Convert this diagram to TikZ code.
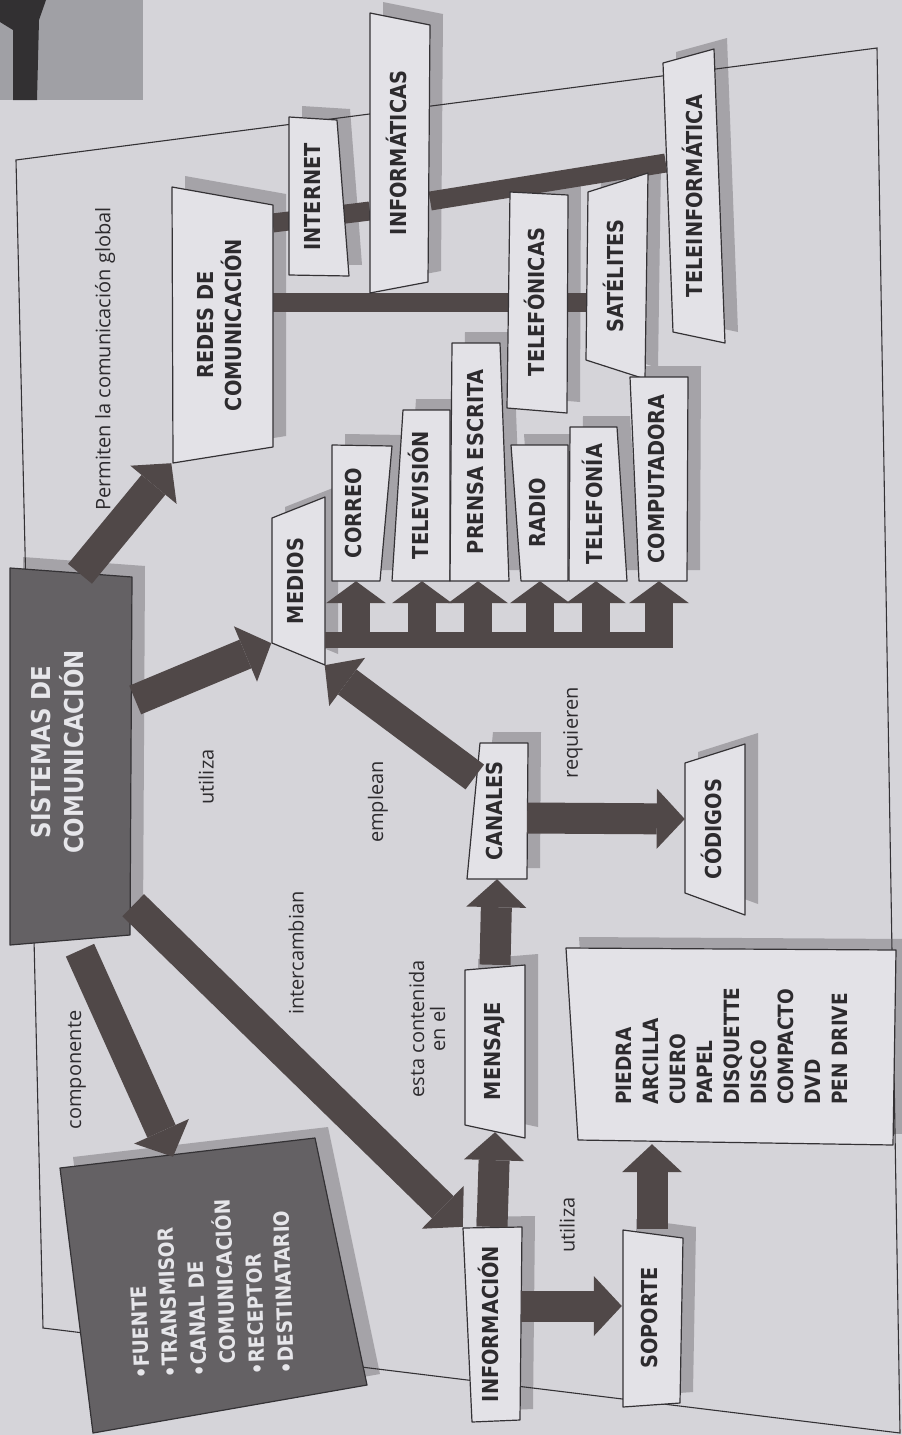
\documentclass[tikz,border=0pt]{standalone}
\usepackage{fontspec}
\usepackage{graphicx}
\usetikzlibrary{arrows.meta}
\newfontfamily\bxfont{DejaVu Sans}[FakeStretch=0.88]
\newfontfamily\notefont{Open Sans}
\definecolor{pagecol}{RGB}{213,212,217}
\definecolor{boxcol}{RGB}{227,226,231}
\definecolor{shadecol}{RGB}{165,163,168}
\definecolor{darkcol}{RGB}{100,97,100}
\definecolor{arrcol}{RGB}{80,72,72}
\definecolor{linecol}{RGB}{52,50,53}
\definecolor{txtcol}{RGB}{45,43,46}
\definecolor{lighttxt}{RGB}{230,230,234}
\definecolor{photocol}{RGB}{160,160,165}
\definecolor{photodark}{RGB}{50,48,50}
\pgfdeclarelayer{back}
\pgfdeclarelayer{links}
\pgfsetlayers{back,links,main}
\newcommand{\vtext}[2][90]{\rotatebox{#1}{\begin{tabular}{@{}c@{}}#2\end{tabular}}}
\newcommand{\vlist}[2][90]{\rotatebox{#1}{\begin{tabular}{@{}l@{}}#2\end{tabular}}}
\newcommand{\cbox}[2][bx]{%
    \begin{pgfonlayer}{back}
        \fill[shd, shift={(13,-11)}] #2 -- cycle;
    \end{pgfonlayer}
    \filldraw[#1] #2 -- cycle;
}
\tikzset{%
    bx/.style={draw=linecol, line width=1.2pt, fill=boxcol, line join=round},
    dk/.style={draw=linecol, line width=1.2pt, fill=darkcol, line join=round},
    shd/.style={fill=shadecol}
}

\begin{document}
\begin{tikzpicture}[x=1pt, y=-1pt,
        lbl/.style={inner sep=0pt, text=txtcol, font=\bxfont\bfseries\fontsize{22}{26}\selectfont},
        note/.style={inner sep=0pt, rotate=90, text=txtcol, font=\notefont\fontsize{20}{21}\selectfont},
        bigarr/.style={draw=arrcol, line width=31pt, -{Triangle[width=60pt, length=28pt, line width=0pt]}},
        tooth/.style={draw=arrcol, line width=28pt, -{Triangle[width=60pt, length=22pt, line width=0pt]}},
        linkbar/.style={draw=arrcol, line width=19pt},
        pageframe/.style={draw=linecol, line width=1.1pt}
        ]
        \useasboundingbox (0,0) rectangle (902,1435);
        \begin{pgfonlayer}{back}
            \fill[pagecol] (0,0) rectangle (902,1435);
            \fill[photocol] (0,0) rectangle (143,100);
            \fill[photodark] (0,0) -- (46,0) -- (39,20) -- (37,100) -- (13,100) -- (13,30) -- (0,22) -- cycle;
        \end{pgfonlayer}
        \begin{pgfonlayer}{links}
            \draw[pageframe] (16,160) -- (877,48) -- (900,1433) -- (43,1328) -- cycle;
        \end{pgfonlayer}

        % cajas
        \cbox{(172,187) -- (273,205) -- (273,447) -- (173,463)}
        \cbox{(289,117) -- (337,120) -- (349,276) -- (289,275)}
        \cbox{(370,13) -- (430,25) -- (428,282) -- (370,293)}
        \cbox{(510,192) -- (568,195) -- (567,413) -- (507,408)}
        \cbox{(588,192) -- (648,173) -- (645,379) -- (586,360)}
        \cbox{(663,63) -- (714,49) -- (725,343) -- (673,332)}
        \cbox{(272,518) -- (325,497) -- (325,665) -- (272,643)}
        \cbox{(332,445) -- (392,446) -- (380,581) -- (332,581)}
        \cbox{(403,410) -- (450,410) -- (450,581) -- (392,581)}
        \cbox{(452,343) -- (500,343) -- (509,581) -- (450,581)}
        \cbox{(511,445) -- (568,445) -- (568,581) -- (521,581)}
        \cbox{(570,427) -- (617,427) -- (627,581) -- (569,581)}
        \cbox{(630,377) -- (688,377) -- (687,581) -- (639,581)}
        \cbox[dk]{(10,568) -- (132,577) -- (130,935) -- (10,945)}
        \cbox[dk]{(60,1168) -- (315,1138) -- (367,1385) -- (93,1433)}
        \cbox{(480,743) -- (528,743) -- (527,879) -- (467,879)}
        \cbox{(685,763) -- (745,744) -- (745,915) -- (685,893)}
        \cbox{(465,970) -- (525,965) -- (525,1138) -- (465,1125)}
        \cbox{(463,1228) -- (522,1227) -- (520,1420) -- (472,1422)}
        \cbox{(623,1230) -- (683,1238) -- (680,1403) -- (623,1407)}
        \cbox{(566,948) -- (896,950) -- (893,1145) -- (578,1140)}

        % textos
        \node[lbl, minimum width=101pt, minimum height=276pt] (redes) at (222,325) {\vtext{REDES DE\\COMUNICACIÓN}};
        \node[lbl, minimum width=56pt, minimum height=158pt] (internet) at (315,197) {\vtext{INTERNET}};
        \node[lbl, minimum width=60pt, minimum height=280pt] (informaticas) at (400,153) {\vtext{INFORMÁTICAS}};
        \node[lbl, minimum width=60pt, minimum height=220pt] (telefonicas) at (538,302) {\vtext{TELEFÓNICAS}};
        \node[lbl, minimum width=62pt, minimum height=206pt] (satelites) at (617,276) {\vtext{SATÉLITES}};
        \node[lbl, minimum width=60pt, minimum height=294pt] (teleinformatica) at (696,196) {\vtext{TELEINFORMÁTICA}};
        \node[lbl, minimum width=53pt, minimum height=168pt] (medios) at (298,581) {\vtext{MEDIOS}};
        \node[lbl, minimum width=50pt, minimum height=136pt] (correo) at (356,513) {\vtext{CORREO}};
        \node[lbl, minimum width=56pt, minimum height=172pt] (television) at (422,495) {\vtext{TELEVISIÓN}};
        \node[lbl, minimum width=56pt, minimum height=238pt] (prensa) at (478,462) {\vtext{PRENSA ESCRITA}};
        \node[lbl, minimum width=56pt, minimum height=136pt] (radio) at (540,513) {\vtext{RADIO}};
        \node[lbl, minimum width=56pt, minimum height=154pt] (telefonia) at (596,504) {\vtext{TELEFONÍA}};
        \node[lbl, minimum width=56pt, minimum height=204pt] (computadora) at (659,479) {\vtext{COMPUTADORA}};
        \node[lbl, text=lighttxt, font=\bxfont\bfseries\fontsize{26}{30}\selectfont,
            minimum width=122pt, minimum height=378pt] (sistemas) at (61,752) {\vtext{SISTEMAS DE\\COMUNICACIÓN}};
        \node[lbl, text=lighttxt, font=\bxfont\bfseries\fontsize{21}{29}\selectfont,
            minimum width=300pt, minimum height=296pt] (componentes) at (213,1288)
            {\vlist[92]{•FUENTE\\•TRANSMISOR\\•CANAL DE\\\hphantom{•}COMUNICACIÓN\\•RECEPTOR\\•DESTINATARIO}};
        \node[lbl, minimum width=60pt, minimum height=136pt] (canales) at (497,811) {\vtext{CANALES}};
        \node[lbl, minimum width=60pt, minimum height=171pt] (codigos) at (715,829) {\vtext{CÓDIGOS}};
        \node[lbl, minimum width=60pt, minimum height=172pt] (mensaje) at (495,1051) {\vtext{MENSAJE}};
        \node[lbl, minimum width=58pt, minimum height=194pt] (informacion) at (492,1324) {\vtext{INFORMACIÓN}};
        \node[lbl, minimum width=60pt, minimum height=178pt] (soporte) at (652,1318) {\vtext{SOPORTE}};
        \node[lbl, font=\bxfont\bfseries\fontsize{21}{27}\selectfont,
            minimum width=330pt, minimum height=196pt] (piedra) at (734,1046)
            {\vlist{PIEDRA\\ARCILLA\\CUERO\\PAPEL\\DISQUETTE\\DISCO\\COMPACTO\\DVD\\PEN DRIVE}};

        \node[note] (permiten) at (105,359) {Permiten la comunicación global};
        \node[note] (utilizaA) at (206,777) {utiliza};
        \node[note] (emplean) at (378,802) {emplean};
        \node[note] (intercambian) at (296,953) {intercambian};
        \node[note] (componente) at (77,1070) {componente};
        \node[note, align=center] (contenida) at (427,1029) {esta contenida\\en el};
        \node[note] (requieren) at (573,733) {requieren};
        \node[note] (utilizaB) at (567,1225) {utiliza};

        % barras
        \begin{pgfonlayer}{links}
            \draw[linkbar] ([shift={(0,-102)}]redes.east) -- ([shift={(0,58)}]informaticas.west);
            \draw[linkbar] ([shift={(0,48)}]informaticas.east) -- ([shift={(0,-33)}]teleinformatica.west);
            \draw[linkbar] ([shift={(0,-23)}]redes.east) -- (satelites.west |- telefonicas.west);
        \end{pgfonlayer}

        % flechas
        \draw[bigarr] ([shift={(19,11)}]sistemas.north) -- (redes.south west);
        \draw[bigarr] ([shift={(13,-52)}]sistemas.east) -- ([shift={(0,-22)}]medios.south west);
        \draw[bigarr] ([shift={(19,9)}]sistemas.south) -- ([shift={(-40,17)}]componentes.north);
        \draw[bigarr] ([shift={(11,-36)}]sistemas.south east) -- (informacion.north west);
        \draw[bigarr] ([shift={(8,-34)}]canales.west) -- (medios.south east);
        \draw[bigarr] ([shift={(0,7)}]canales.east) -- ([shift={(0,-10)}]codigos.west);
        \draw[bigarr] (mensaje.north) -- (canales.south);
        \draw[bigarr] (informacion.north) -- ([shift={(0,-5)}]mensaje.south);
        \draw[bigarr] ([shift={(0,-18)}]informacion.east) -- ([shift={(0,-12)}]soporte.west);
        \draw[bigarr] (soporte.north) -- (soporte.north |- piedra.south);

        % peine de medios
        \coordinate (combL) at ([shift={(0,59)}]medios.east);
        \coordinate (combR) at ([xshift=14pt]computadora |- combL);
        \draw[draw=arrcol, line width=16pt] (combL) -- (combR);
        \draw[tooth] (correo |- combL) -- (correo.south);
        \draw[tooth] (television |- combL) -- (television.south);
        \draw[tooth] (prensa |- combL) -- (prensa.south);
        \draw[tooth] (radio |- combL) -- (radio.south);
        \draw[tooth] (telefonia |- combL) -- (telefonia.south);
        \draw[tooth] (computadora |- combL) -- (computadora.south);
    \end{tikzpicture}
\end{document}
